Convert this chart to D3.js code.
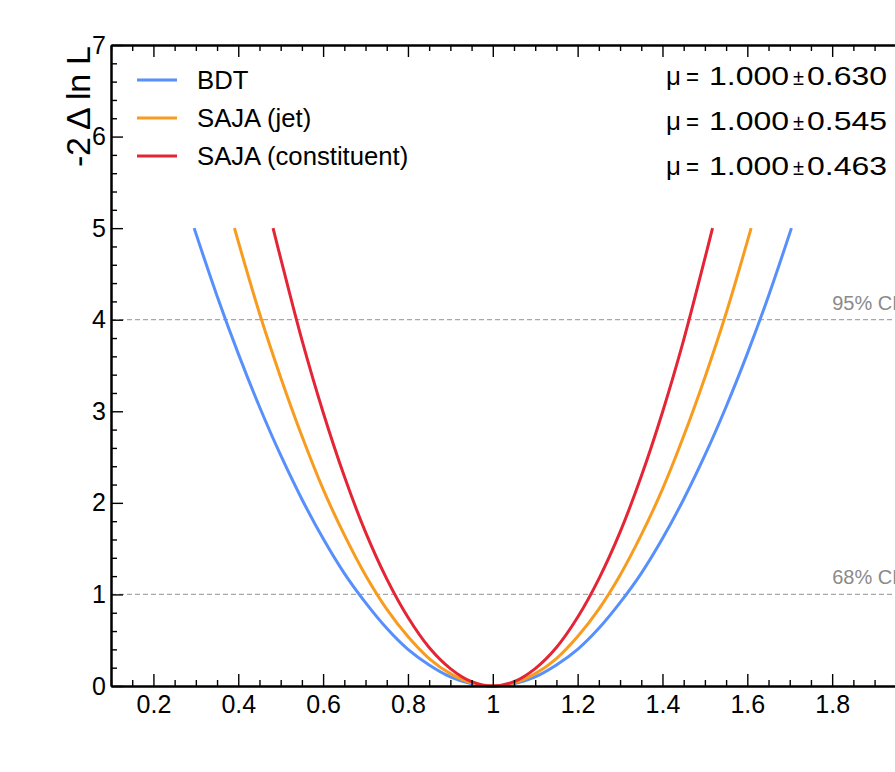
<!DOCTYPE html>
<html>
<head>
<meta charset="utf-8">
<script src="https://cdn.jsdelivr.net/npm/d3@7"></script>
<style>
  html, body { margin: 0; padding: 0; background: #fff; }
  svg { display: block; font-family: "Liberation Sans", Arial, Helvetica, sans-serif; }
</style>
</head>
<body>
<svg id="chart" width="895" height="772"></svg>
<script>
// ---------------- data ----------------
const seriesNames = ["BDT", "SAJA (jet)", "SAJA (constituent)"];
const seriesColors = ["#5790fc", "#f89c20", "#e42536"];
const sigmaLabels = ["0.630", "0.545", "0.463"];
const muCentral = "1.000";

const bdtMu  = [0.296, 0.35, 0.40, 0.45, 0.50, 0.55, 0.60, 0.65, 0.70, 0.75, 0.80, 0.85, 0.90, 0.95, 1.00,
                1.05, 1.10, 1.15, 1.20, 1.25, 1.30, 1.35, 1.40, 1.45, 1.50, 1.55, 1.60, 1.65, 1.704];
const bdtNll = [5.00, 4.26, 3.63, 3.05, 2.52, 2.04, 1.61, 1.23, 0.91, 0.63, 0.40, 0.23, 0.10, 0.025, 0.00,
                0.025, 0.10, 0.23, 0.40, 0.63, 0.91, 1.23, 1.61, 2.04, 2.52, 3.05, 3.63, 4.26, 5.00];

const jetMu  = [0.391, 0.45, 0.50, 0.55, 0.60, 0.65, 0.70, 0.75, 0.80, 0.85, 0.90, 0.95, 1.00,
                1.05, 1.10, 1.15, 1.20, 1.25, 1.30, 1.35, 1.40, 1.45, 1.50, 1.55, 1.609];
const jetNll = [5.00, 4.07, 3.37, 2.73, 2.15, 1.65, 1.21, 0.84, 0.54, 0.30, 0.135, 0.034, 0.00,
                0.034, 0.135, 0.30, 0.54, 0.84, 1.21, 1.65, 2.15, 2.73, 3.37, 4.07, 5.00];

const conMu  = [0.482, 0.50, 0.55, 0.60, 0.65, 0.70, 0.75, 0.80, 0.85, 0.90, 0.95, 1.00,
                1.05, 1.10, 1.15, 1.20, 1.25, 1.30, 1.35, 1.40, 1.45, 1.50, 1.518];
const conNll = [5.00, 4.67, 3.78, 2.99, 2.29, 1.68, 1.17, 0.75, 0.42, 0.19, 0.047, 0.00,
                0.047, 0.19, 0.42, 0.75, 1.17, 1.68, 2.29, 2.99, 3.78, 4.67, 5.00];

const clLevels = [1, 4];
const clLabels = ["68% CL", "95% CL"];

const xDomain = [0.1, 2.0];
const yDomain = [0, 7];
const xMajorTicks = [0.2, 0.4, 0.6, 0.8, 1.0, 1.2, 1.4, 1.6, 1.8];
const xTickLabels = ["0.2", "0.4", "0.6", "0.8", "1", "1.2", "1.4", "1.6", "1.8"];
const yMajorTicks = [0, 1, 2, 3, 4, 5, 6, 7];

// ---------------- layout ----------------
const svg = d3.select("#chart");
const L = 111, T = 45, B = 686, R = 917;

const x = d3.scaleLinear().domain(xDomain).range([L, R]);
const y = d3.scaleLinear().domain(yDomain).range([B, T]);

const xMinor = d3.range(0.1, 2.0001, 0.05).map(v => +v.toFixed(2)).filter(v => !xMajorTicks.some(m => Math.abs(m - v) < 1e-6));
const yMinor = d3.range(0, 7.0001, 0.2).map(v => +v.toFixed(2)).filter(v => Math.abs(v - Math.round(v)) > 1e-6);

// CL dashed lines
clLevels.forEach((lv, i) => {
  svg.append("line")
    .attr("x1", L).attr("x2", R)
    .attr("y1", y(lv)).attr("y2", y(lv))
    .attr("stroke", "#a8a8a8").attr("stroke-width", 1.2)
    .attr("stroke-dasharray", "5,3");
  svg.append("text")
    .attr("x", x(1.8)).attr("y", y(lv) - 10)
    .attr("font-size", 20).attr("fill", "#8a8a8a")
    .text(clLabels[i]);
});

// curves
const line = d3.line().x(d => x(d[0])).y(d => y(d[1])).curve(d3.curveCatmullRom.alpha(0.5));
const seriesData = [
  d3.zip(bdtMu, bdtNll),
  d3.zip(jetMu, jetNll),
  d3.zip(conMu, conNll)
];
seriesData.forEach((d, i) => {
  svg.append("path").datum(d)
    .attr("d", line)
    .attr("fill", "none")
    .attr("stroke", seriesColors[i])
    .attr("stroke-width", 3);
});

// axes
function styleAxis(g) {
  g.select(".domain").attr("stroke", "#000").attr("stroke-width", 2);
  g.selectAll(".tick line").attr("stroke", "#000").attr("stroke-width", 1.4);
  g.selectAll("text").attr("font-size", 25).attr("fill", "#000")
    .attr("font-family", "'Liberation Sans', Arial, Helvetica, sans-serif");
}

// bottom
const gxb = svg.append("g").attr("transform", `translate(0,${B})`)
  .call(d3.axisBottom(x).tickValues(xMajorTicks).tickSize(-12).tickSizeOuter(0).tickPadding(9)
        .tickFormat((d, i) => xTickLabels[i]));
styleAxis(gxb);
const gxbm = svg.append("g").attr("transform", `translate(0,${B})`)
  .call(d3.axisBottom(x).tickValues(xMinor).tickSize(-6).tickSizeOuter(0).tickFormat(""));
styleAxis(gxbm);
// top
const gxt = svg.append("g").attr("transform", `translate(0,${T})`)
  .call(d3.axisTop(x).tickValues(xMajorTicks).tickSize(-12).tickSizeOuter(0).tickFormat(""));
styleAxis(gxt);
const gxtm = svg.append("g").attr("transform", `translate(0,${T})`)
  .call(d3.axisTop(x).tickValues(xMinor).tickSize(-6).tickSizeOuter(0).tickFormat(""));
styleAxis(gxtm);
// left
const gyl = svg.append("g").attr("transform", `translate(${L},0)`)
  .call(d3.axisLeft(y).tickValues(yMajorTicks).tickSize(-12).tickSizeOuter(0).tickPadding(5)
        .tickFormat(d3.format("d")));
styleAxis(gyl);
const gylm = svg.append("g").attr("transform", `translate(${L},0)`)
  .call(d3.axisLeft(y).tickValues(yMinor).tickSize(-6).tickSizeOuter(0).tickFormat(""));
styleAxis(gylm);
// right
const gyr = svg.append("g").attr("transform", `translate(${R},0)`)
  .call(d3.axisRight(y).tickValues(yMajorTicks).tickSize(-12).tickSizeOuter(0).tickFormat(""));
styleAxis(gyr);

// y label
svg.append("text")
  .attr("transform", `translate(90,${T + 1}) rotate(-90)`)
  .attr("text-anchor", "end")
  .attr("font-size", 34)
  .attr("textLength", 121)
  .attr("lengthAdjust", "spacing")
  .text("-2 \u0394 ln L");

// legend
const legY = [80, 118, 156];
seriesNames.forEach((n, i) => {
  svg.append("line")
    .attr("x1", 137).attr("x2", 177)
    .attr("y1", legY[i]).attr("y2", legY[i])
    .attr("stroke", seriesColors[i]).attr("stroke-width", 3);
  svg.append("text")
    .attr("x", 197).attr("y", legY[i] + 8.5)
    .attr("font-size", 25.7)
    .text(n);
});

// mu annotations
const muY = [85, 130, 175];
sigmaLabels.forEach((s, i) => {
  const t = svg.append("text").attr("y", muY[i]).attr("font-size", 26);
  t.append("tspan").attr("x", 666).text("\u03bc");
  t.append("tspan").attr("x", 686).attr("textLength", 13).attr("lengthAdjust", "spacingAndGlyphs").text("=");
  t.append("tspan").attr("x", 709).attr("textLength", 80).attr("lengthAdjust", "spacingAndGlyphs").text(muCentral);
  t.append("tspan").attr("x", 793).attr("font-size", 22).attr("textLength", 11).attr("lengthAdjust", "spacingAndGlyphs").text("\u00b1");
  t.append("tspan").attr("x", 807).attr("textLength", 80).attr("lengthAdjust", "spacingAndGlyphs").text(s);
});
</script>
</body>
</html>
